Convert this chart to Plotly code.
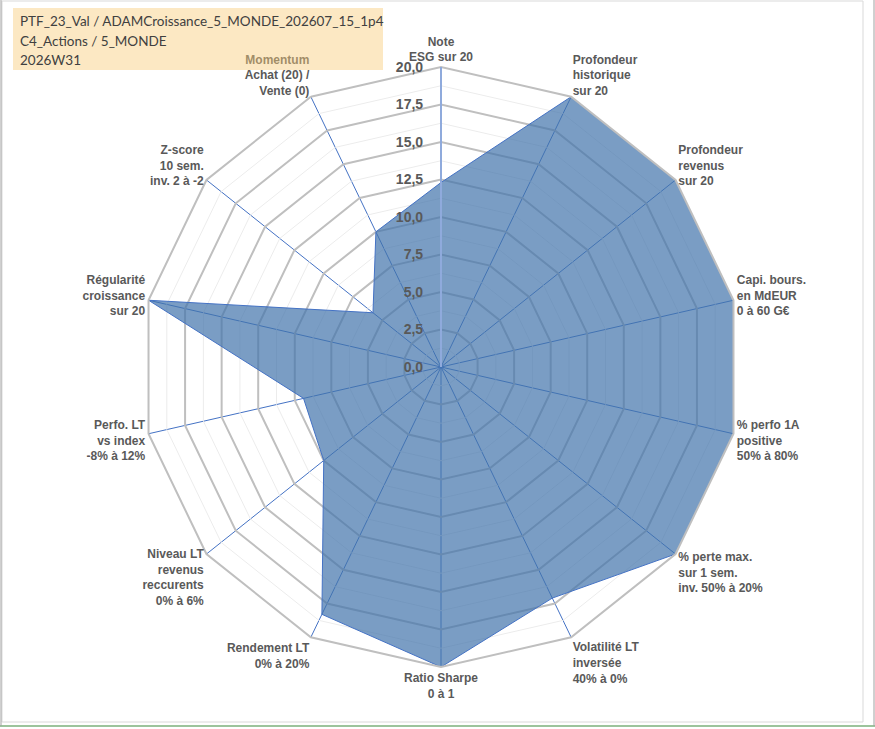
import plotly.graph_objects as go

# ---- data ----
categories = [
    "Note<br>ESG sur 20",
    "Profondeur<br>historique<br>sur 20",
    "Profondeur<br>revenus<br>sur 20",
    "Capi. bours.<br>en MdEUR<br>0 à 60 G€",
    "% perfo 1A<br>positive<br>50% à 80%",
    "% perte max.<br>sur 1 sem.<br>inv. 50% à 20%",
    "Volatilité LT<br>inversée<br>40% à 0%",
    "Ratio Sharpe<br>0 à 1",
    "Rendement LT<br>0% à 20%",
    "Niveau LT<br>revenus<br>reccurents<br>0% à 6%",
    "Perfo. LT<br>vs index<br>-8% à 12%",
    "Régularité<br>croissance<br>sur 20",
    "Z-score<br>10 sem.<br>inv. 2 à -2",
    "Momentum<br>Achat (20) /<br>Vente (0)",
]
scores = [12.3, 20, 20, 20, 20, 20, 17.1, 20, 18.3, 10.0, 9.4, 20, 5.8, 10.0]
major_ticks = [0, 2.5, 5, 7.5, 10, 12.5, 15, 17.5, 20]
minor_levels = [1.25, 3.75, 6.25, 8.75, 11.25, 13.75, 16.25, 18.75]
title_lines = ["PTF_23_Val / ADAMCroissance_5_MONDE_202607_15_1p4",
               "C4_Actions / 5_MONDE",
               "2026W31"]

W, H = 875, 729
cx, cy, R = 441, 367, 300

fig = go.Figure()

# minor grid rings
mr, mt = [], []
for lv in minor_levels:
    mr += [lv] * (len(categories) + 1) + [None]
    mt += categories + [categories[0], categories[0]]
fig.add_trace(go.Scatterpolar(r=mr, theta=mt, mode="lines",
                              line=dict(color="#ececec", width=1),
                              hoverinfo="skip", showlegend=False, connectgaps=False))

fig.add_trace(go.Scatterpolar(
    r=scores + [scores[0]], theta=categories + [categories[0]],
    mode="lines", fill="toself",
    fillcolor="rgba(65,115,171,0.7)",
    line=dict(color="#4472C4", width=1),
    showlegend=False))

lab_font = dict(family="Arial", size=12, color="#595959", weight="bold")

fig.update_layout(
    width=W, height=H,
    margin=dict(l=0, r=0, t=0, b=0),
    paper_bgcolor="white",
    separators=", ",
    polar=dict(
        domain=dict(x=[(cx - R) / W, (cx + R) / W],
                    y=[(H - cy - R) / H, (H - cy + R) / H]),
        gridshape="linear",
        bgcolor="white",
        radialaxis=dict(range=[0, 20], tickvals=major_ticks, tickformat=".1f",
                        angle=90, side="counterclockwise", tickangle=90,
                        showline=True, linecolor="#8faadc", linewidth=2,
                        gridcolor="#bfbfbf", gridwidth=2,
                        ticks="outside", ticklen=12, tickcolor="rgba(0,0,0,0)",
                        tickfont=dict(family="Arial", size=14,
                                      color="#595959", weight="bold")),
        angularaxis=dict(direction="clockwise", rotation=90,
                         gridcolor="#4472C4", gridwidth=1,
                         showline=True, linecolor="#bfbfbf", linewidth=2,
                         ticks="", tickfont=lab_font),
    ),
)

# title box (semi-transparent, above the chart)
fig.add_shape(type="rect", xref="paper", yref="paper",
              x0=13 / W, x1=383 / W, y0=1 - 70 / H, y1=1 - 8 / H,
              fillcolor="rgba(248,203,123,0.45)", line=dict(width=0), layer="above")
for i, t in enumerate(title_lines):
    fig.add_annotation(text=t, xref="paper", yref="paper",
                       x=18 / W, y=1 - (21 + 19.5 * i) / H,
                       xanchor="left", yanchor="middle", showarrow=False,
                       font=dict(family="Lato", size=13.5, color="#404040"))

# frames
fig.add_shape(type="rect", xref="paper", yref="paper",
              x0=2 / W, x1=863 / W, y0=1 - 722 / H, y1=1 - 1 / H,
              line=dict(color="#d9d9d9", width=1), fillcolor="rgba(0,0,0,0)")
fig.add_shape(type="line", xref="paper", yref="paper",
              x0=0, x1=1, y0=1 - 726 / H, y1=1 - 726 / H,
              line=dict(color="#9cc49c", width=2))
fig.add_shape(type="line", xref="paper", yref="paper",
              x0=1 / W, x1=1 / W, y0=1 - 726 / H, y1=1,
              line=dict(color="#a0a0a0", width=1))
fig.add_shape(type="line", xref="paper", yref="paper",
              x0=874 / W, x1=874 / W, y0=1 - 726 / H, y1=1,
              line=dict(color="#a0a0a0", width=1))

fig.write_html("out.html", config={"displayModeBar": False},
               post_script="document.body.style.margin='0px';document.body.style.overflow='hidden';")
